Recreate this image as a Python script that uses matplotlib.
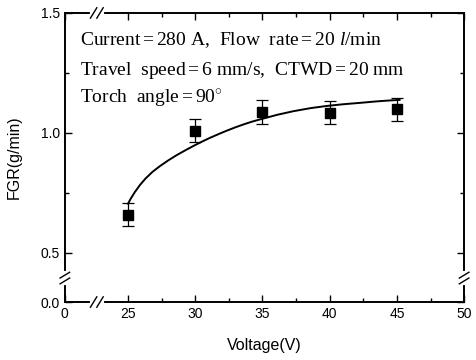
import numpy as np
import matplotlib
matplotlib.use('Agg')
import matplotlib.pyplot as plt

# Datos
voltage = [25, 30, 35, 40, 45]
fgr = [0.657, 1.008, 1.087, 1.084, 1.098]
fgr_err = [0.048, 0.048, 0.051, 0.048, 0.048]

# Curva de ajuste (puntos leídos a lo largo de la línea)
fit_v = [25.0, 25.2, 25.5, 25.9, 26.3, 26.8, 27.4, 28.0, 28.6, 29.3, 29.9, 30.5, 31.1,
         31.8, 32.4, 33.0, 33.6, 34.2, 34.9, 36.1, 37.3, 38.6, 39.8, 41.0, 42.3, 43.5,
         44.5, 45.2]
fit_gfr = [0.704, 0.725, 0.752, 0.783, 0.809, 0.836, 0.862, 0.885, 0.906, 0.928, 0.946,
           0.963, 0.979, 0.996, 1.010, 1.023, 1.035, 1.046, 1.057, 1.075, 1.090, 1.103,
           1.112, 1.119, 1.125, 1.131, 1.135, 1.137]

x_ticks = [0, 25, 30, 35, 40, 45, 50]
y_ticks = [0.0, 0.5, 1.0, 1.5]

plt.rcParams['mathtext.fontset'] = 'custom'
plt.rcParams['mathtext.rm'] = 'Liberation Serif'
plt.rcParams['mathtext.it'] = 'Liberation Serif:italic'


# Escalas con corte en los ejes
kx = 0.188
ky = 0.413


def fx(v):
    v = np.asarray(v, dtype=float)
    return np.where(v >= 25, v, 25 - (25 - v) * kx)


def ix(u):
    u = np.asarray(u, dtype=float)
    return np.where(u >= 25, u, 25 - (25 - u) / kx)


def fy(v):
    v = np.asarray(v, dtype=float)
    return np.where(v >= 0.5, v, 0.5 - (0.5 - v) * ky)


def iy(u):
    u = np.asarray(u, dtype=float)
    return np.where(u >= 0.5, u, 0.5 - (0.5 - u) / ky)


fig = plt.figure(figsize=(4.77, 3.6), dpi=100)
ax = fig.add_axes([0.136, 0.161, 0.837, 0.803])
ax.set_xscale('function', functions=(fx, ix))
ax.set_yscale('function', functions=(fy, iy))

ax.plot(fit_v, fit_gfr, color='black', linewidth=1.4)
ax.errorbar(voltage, fgr, yerr=fgr_err, fmt='s', color='black', markersize=7,
            elinewidth=0.9, capsize=4, capthick=0.9)

ax.set_xlim(0, 50)
ax.set_ylim(0, 1.5)
ax.set_xticks(x_ticks)
ax.set_xticklabels([str(t) for t in x_ticks])
ax.set_xticks([27.5, 32.5, 37.5, 42.5, 47.5], minor=True)
ax.set_yticks(y_ticks)
ax.set_yticklabels(['%.1f' % t for t in y_ticks])
ax.set_yticks([0.75, 1.25], minor=True)

for side in ax.spines.values():
    side.set_linewidth(1.4)

ax.tick_params(which='both', direction='in', top=True, right=True,
               labelsize=10, width=1.0)
ax.tick_params(which='major', length=5)
ax.tick_params(which='minor', length=3)
for lbl in ax.get_xticklabels() + ax.get_yticklabels():
    lbl.set_family('Liberation Sans')

ax.set_xlabel('Voltage(V)', fontsize=11.5, family='Liberation Sans', labelpad=12)
ax.set_ylabel('FGR(g/min)', fontsize=11.5, family='Liberation Sans', labelpad=14)

# Marcas de corte
def cut_x(xa, ya):
    ax.plot([xa - 0.012, xa + 0.012], [ya, ya], transform=ax.transAxes,
            color='white', linewidth=3, clip_on=False, zorder=5)
    for dx in (-0.008, 0.008):
        ax.plot([xa + dx - 0.008, xa + dx + 0.008], [ya - 0.018, ya + 0.018],
                transform=ax.transAxes, color='black', linewidth=1.0,
                clip_on=False, zorder=6)


def cut_y(xa, ya):
    ax.plot([xa, xa], [ya - 0.016, ya + 0.016], transform=ax.transAxes,
            color='white', linewidth=3, clip_on=False, zorder=5)
    for dy in (-0.01, 0.01):
        ax.plot([xa - 0.012, xa + 0.012], [ya + dy - 0.01, ya + dy + 0.01],
                transform=ax.transAxes, color='black', linewidth=1.0,
                clip_on=False, zorder=6)


cut_x(0.08, 0.0)
cut_x(0.08, 1.0)
cut_y(0.0, 0.083)
cut_y(1.0, 0.083)

serif = 'Liberation Serif'
ax.text(0.038, 0.889, r'Current$=$280 A,  Flow  rate$=$20 $\it{l}$/min', transform=ax.transAxes,
        family=serif, fontsize=14, va='baseline')
ax.text(0.038, 0.785, r'Travel  speed$=$6 mm/s,  CTWD$=$20 mm', transform=ax.transAxes,
        family=serif, fontsize=14, va='baseline')
ax.text(0.038, 0.689, r'Torch  angle$=$90$^{\circ}$', transform=ax.transAxes,
        family=serif, fontsize=14, va='baseline')

plt.savefig('out.png', dpi=100)
